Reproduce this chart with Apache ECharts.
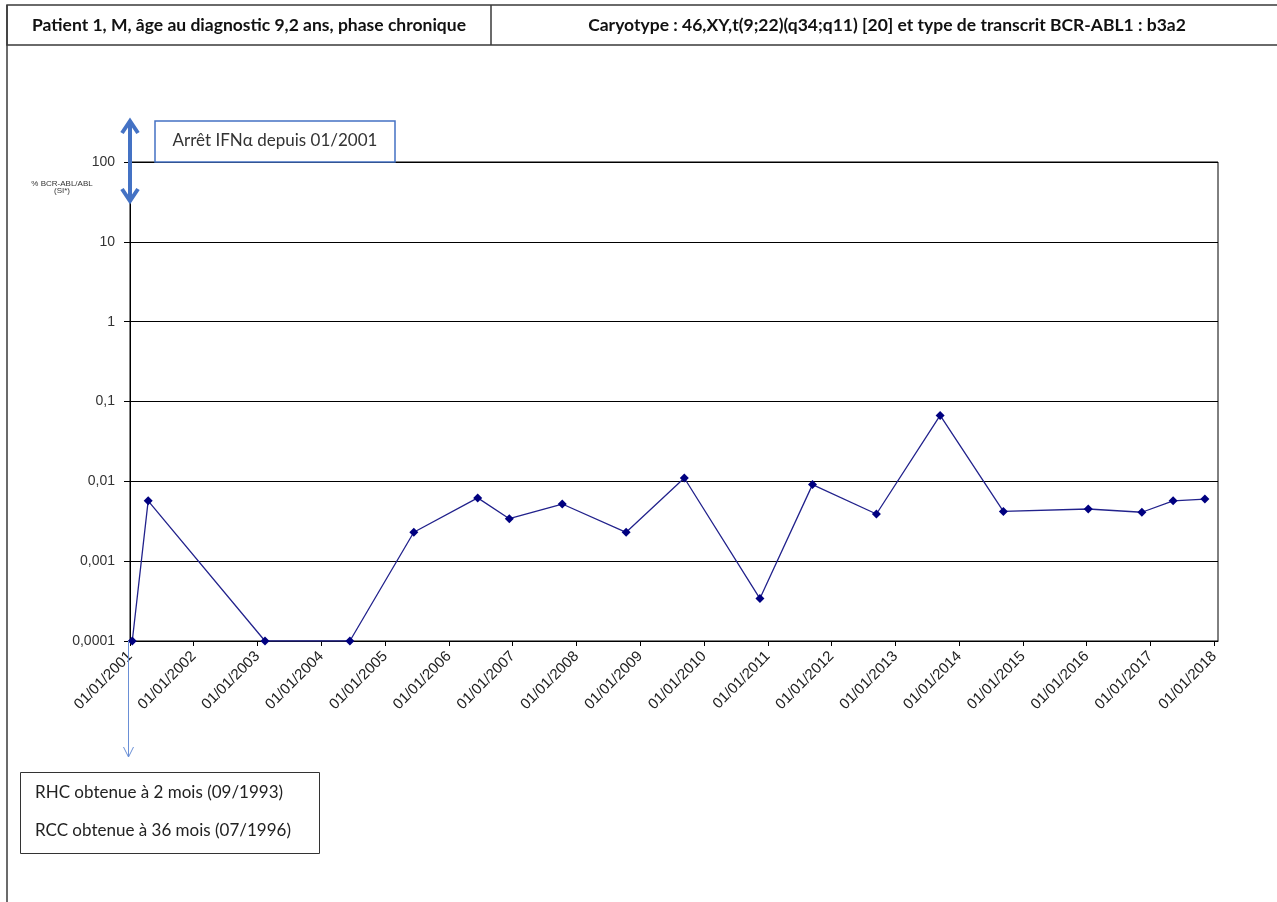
<!DOCTYPE html>
<html>
<head>
<meta charset="utf-8">
<script src="https://cdn.jsdelivr.net/npm/echarts@6/dist/echarts.min.js"></script>
<style>
html,body{margin:0;padding:0;background:#fff;}
#chart{width:1277px;height:902px;}
</style>
</head>
<body>
<div id="chart"></div>
<script>
// dates des prélèvements et ratio BCR-ABL/ABL (%)
const dates = ['2001-01-14', '2001-04-15', '2003-02-13', '2004-06-13', '2005-06-14', '2006-06-15', '2006-12-13',
    '2007-10-12', '2008-10-12', '2009-09-10', '2010-11-17', '2011-09-14', '2012-09-14', '2013-09-14',
    '2014-09-11', '2016-01-10', '2016-11-12', '2017-05-10', '2017-11-08'];
const ratios = [0.0001, 0.0057, 0.0001, 0.0001, 0.0023, 0.0062, 0.0034, 0.0052, 0.0023, 0.011, 0.00034,
    0.0091, 0.0039, 0.067, 0.0042, 0.0045, 0.0041, 0.0057, 0.006];
const yMin = 0.0001;
const yMax = 100;
const xMin = '2001-01-01';
const xMax = '2018-01-22';
const headerLeft = 'Patient 1, M, âge au diagnostic 9,2 ans, phase chronique';
const headerRight = 'Caryotype : 46,XY,t(9;22)(q34;q11) [20] et type de transcrit BCR-ABL1 : b3a2';
const yName = ['% BCR-ABL/ABL', '(SI*)'];
const noteTop = 'Arrêt IFNα depuis 01/2001';
const noteBottom = ['RHC obtenue à 2 mois (09/1993)', 'RCC obtenue à 36 mois (07/1996)'];

const pad = n => (n < 10 ? '0' : '') + n;
const fmtDate = v => {
    const d = new Date(v);
    return pad(d.getDate()) + '/' + pad(d.getMonth() + 1) + '/' + d.getFullYear();
};
const fmtNum = v => String(+Number(v).toPrecision(6)).replace('.', ',');

const chart = echarts.init(document.getElementById('chart'));
const blue = '#4472c4';
const txtFont = 'Lato, "Open Sans", sans-serif';

const options = {
    animation: false,
    backgroundColor: '#fff',
    grid: {
        left: 130, right: 59, top: 162, bottom: 261,
        show: true, borderColor: '#000', borderWidth: 1,
        outerBoundsMode: 'none'
    },
    xAxis: {
        type: 'time',
        min: xMin,
        max: xMax,
        splitNumber: 17,
        minInterval: 365 * 24 * 3600 * 1000,
        maxInterval: 366 * 24 * 3600 * 1000,
        axisLine: { lineStyle: { color: '#000', width: 1 } },
        axisTick: { show: true, length: 5, lineStyle: { color: '#000' } },
        splitLine: { show: false },
        axisLabel: {
            rotate: 45,
            margin: 13,
            color: '#222',
            fontFamily: '"Liberation Sans", Arial, sans-serif',
            fontSize: 15,
            showMaxLabel: false,
            hideOverlap: false,
            formatter: v => fmtDate(v)
        }
    },
    yAxis: {
        type: 'log',
        logBase: 10,
        min: yMin,
        max: yMax,
        axisLine: { show: true, lineStyle: { color: '#000', width: 1 } },
        axisTick: { show: true, length: 6, lineStyle: { color: '#000' } },
        splitLine: { show: true, lineStyle: { color: '#000', width: 1 } },
        axisLabel: {
            margin: 15,
            color: '#333',
            fontFamily: '"Liberation Sans", Arial, sans-serif',
            fontSize: 14,
            formatter: v => fmtNum(v)
        }
    },
    series: [{
        type: 'line',
        data: dates.map((d, i) => [d, ratios[i]]),
        symbol: 'diamond',
        symbolSize: 9,
        lineStyle: { color: '#22228c', width: 1.3 },
        itemStyle: { color: '#000080' },
        z: 5
    }],
    graphic: [
        // cadre de la page + entête
        { type: 'line', z: 100, shape: { x1: 7, y1: 5, x2: 7, y2: 902 }, style: { stroke: '#3a3a3a', lineWidth: 1.5 } },
        { type: 'rect', z: 100, shape: { x: 7, y: 5, width: 1280, height: 40 }, style: { fill: 'none', stroke: '#3a3a3a', lineWidth: 1.5 } },
        { type: 'line', z: 100, shape: { x1: 491, y1: 5, x2: 491, y2: 45 }, style: { stroke: '#3a3a3a', lineWidth: 1.5 } },
        { type: 'text', z: 100, x: 249, y: 25, style: { text: headerLeft, font: 'bold 17.5px ' + txtFont, fill: '#111', align: 'center', verticalAlign: 'middle' } },
        { type: 'text', z: 100, x: 887, y: 25, style: { text: headerRight, font: 'bold 17.5px ' + txtFont, fill: '#111', align: 'center', verticalAlign: 'middle' } },
        // nom de l'axe y
        { type: 'text', z: 100, x: 62, y: 184, style: { text: yName[0], font: '8px "Liberation Sans", Arial', fill: '#333', align: 'center', verticalAlign: 'middle' } },
        { type: 'text', z: 100, x: 62, y: 191, style: { text: yName[1], font: '8px "Liberation Sans", Arial', fill: '#333', align: 'center', verticalAlign: 'middle' } },
        // encadré arrêt IFN
        { type: 'rect', z: 100, shape: { x: 155, y: 121, width: 240, height: 41 }, style: { fill: '#fff', stroke: blue, lineWidth: 1.5 } },
        { type: 'text', z: 101, x: 275, y: 141, style: { text: noteTop, font: '17px ' + txtFont, fill: '#333', align: 'center', verticalAlign: 'middle' } },
        // double flèche
        { type: 'line', z: 100, shape: { x1: 130, y1: 122, x2: 130, y2: 200 }, style: { stroke: blue, lineWidth: 4 } },
        { type: 'polyline', z: 100, shape: { points: [[122, 133], [130, 121], [138, 133]] }, style: { stroke: blue, lineWidth: 4, fill: 'none' } },
        { type: 'polyline', z: 100, shape: { points: [[122, 189], [130, 201], [138, 189]] }, style: { stroke: blue, lineWidth: 4, fill: 'none' } },
        // flèche fine vers le bas
        { type: 'line', z: 100, shape: { x1: 128.5, y1: 641, x2: 128.5, y2: 757 }, style: { stroke: '#6a8fd6', lineWidth: 1 } },
        { type: 'polyline', z: 100, shape: { points: [[123.5, 747], [128.5, 757], [133.5, 747]] }, style: { stroke: '#6a8fd6', lineWidth: 1, fill: 'none' } },
        // encadré réponses
        { type: 'rect', z: 100, shape: { x: 20.5, y: 772.5, width: 299, height: 81 }, style: { fill: '#fff', stroke: '#333', lineWidth: 1 } },
        { type: 'text', z: 101, x: 35, y: 793, style: { text: noteBottom[0], font: '17px ' + txtFont, fill: '#222', verticalAlign: 'middle' } },
        { type: 'text', z: 101, x: 35, y: 831, style: { text: noteBottom[1], font: '17px ' + txtFont, fill: '#222', verticalAlign: 'middle' } }
    ]
};
chart.setOption(options);
</script>
</body>
</html>
